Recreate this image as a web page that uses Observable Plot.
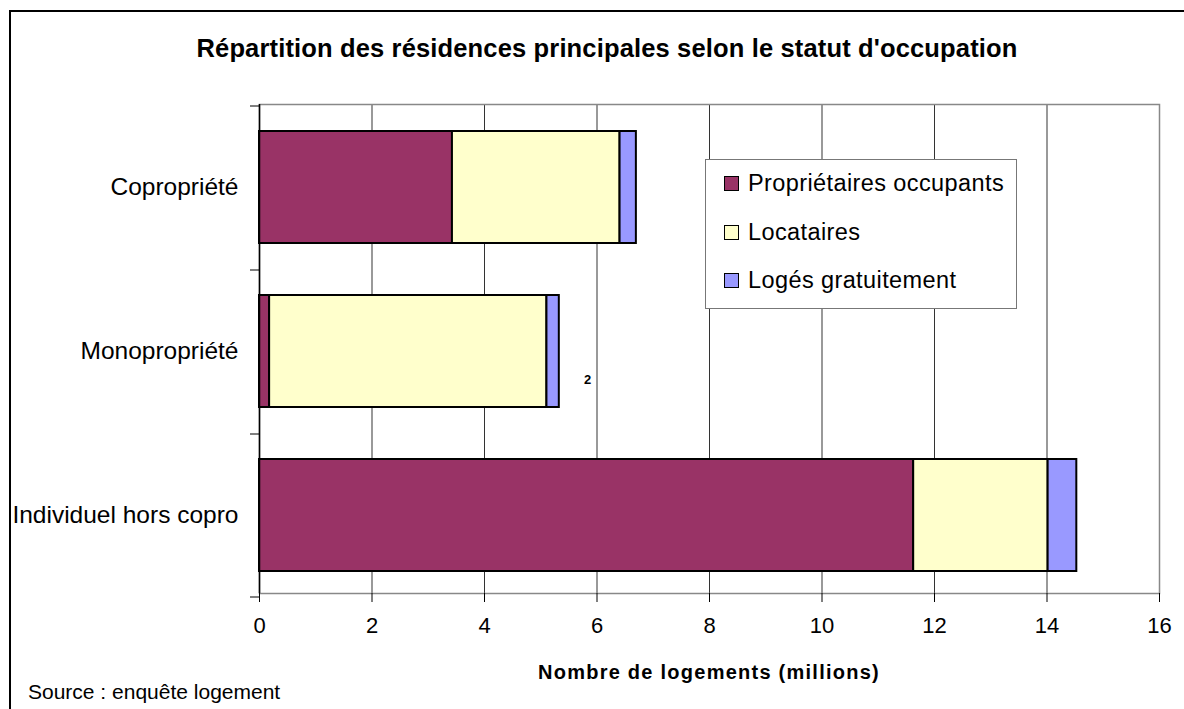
<!DOCTYPE html>
<html>
<head>
<meta charset="utf-8">
<script src="https://cdn.jsdelivr.net/npm/d3@7"></script>
<script src="https://cdn.jsdelivr.net/npm/@observablehq/plot@0.6"></script>
<style>
  html, body { margin: 0; padding: 0; background: #fff; overflow: hidden; }
  body { width: 1184px; height: 709px; position: relative; font-family: "Liberation Sans", Arial, sans-serif; }
  #border { position: absolute; left: 9px; top: 10px; width: 1300px; height: 800px; border: 2px solid #000; box-sizing: border-box; }
  #chart { position: absolute; left: 0; top: 0; }
  #title { position: absolute; left: 0; width: 1214px; top: 33px; line-height: 30px; text-align: center; font-weight: bold; font-size: 25.5px; letter-spacing: 0.15px; color: #000; }
  #xlabel { position: absolute; left: 259px; width: 900px; top: 660px; line-height: 24px; text-align: center; font-weight: bold; font-size: 20px; letter-spacing: 1.25px; }
  #source { position: absolute; left: 28px; top: 680px; line-height: 24px; font-size: 21px; }
  #note { position: absolute; left: 584px; top: 372px; line-height: 16px; font-size: 13px; font-weight: bold; }
  #legend { position: absolute; left: 705px; top: 159px; width: 312px; height: 150px; border: 1px solid #777; box-sizing: border-box; background: #fff; }
  .item { position: absolute; left: 18px; font-size: 23.5px; line-height: 28px; height: 28px; display: flex; align-items: center; letter-spacing: 0.4px; white-space: nowrap; }
  .sw { width: 13px; height: 13px; border: 1px solid #000; margin-right: 9px; flex: none; }
</style>
</head>
<body>
<div id="border"></div>
<div id="title">Répartition des résidences principales selon le statut d'occupation</div>
<div id="chart"></div>
<div id="legend"></div>
<div id="note">2</div>
<div id="xlabel">Nombre de logements (millions)</div>
<div id="source">Source : enquête logement</div>
<script>
const categories = ["Copropriété", "Monopropriété", "Individuel hors copro"];
const series = ["Propriétaires occupants", "Locataires", "Logés gratuitement"];
const colors = ["#993366", "#FFFFCC", "#9999FF"];
const proprietaires = [3.43, 0.18, 11.63];
const locataires = [2.98, 4.93, 2.39];
const gratuits = [0.29, 0.22, 0.51];
const xTicks = [0, 2, 4, 6, 8, 10, 12, 14, 16];

const values = [proprietaires, locataires, gratuits];
const data = [];
categories.forEach((c, i) => {
  series.forEach((s, j) => data.push({cat: c, series: s, value: values[j][i]}));
});

const W = 1184, H = 709, mT = 104, mB = 116;
const step = (H - mT - mB) / categories.length;

const plot = Plot.plot({
  width: W,
  height: H,
  marginLeft: 259,
  marginRight: 25,
  marginTop: mT,
  marginBottom: mB,
  style: {fontFamily: "'Liberation Sans', Arial, sans-serif", color: "#000", background: "transparent"},
  x: {domain: [0, 16], ticks: xTicks},
  y: {domain: categories, paddingInner: 0.32, paddingOuter: 0.15, align: 0.55},
  color: {domain: series, range: colors},
  marks: [
    Plot.gridX(xTicks.slice(1, -1), {stroke: "#000", strokeOpacity: 0.8, strokeWidth: 1}),
    Plot.frame({stroke: "#888", strokeWidth: 1.5}),
    Plot.barX(data, {x: "value", y: "cat", fill: "series", stroke: "#000", strokeWidth: 2}),
    Plot.ruleX([0], {stroke: "#000", strokeWidth: 1.5}),
    Plot.ruleY(categories, {y: d => d, x1: -0.16, x2: 0, stroke: "#000", dy: -step / 2}),
    Plot.ruleY(categories.slice(-1), {y: d => d, x1: -0.16, x2: 0, stroke: "#000", dy: step / 2}),
    Plot.axisX({ticks: xTicks, tickSize: 9, tickPadding: 15, fontSize: 22, label: null, stroke: "#000"}),
    Plot.axisY({tickSize: 0, tickPadding: 21, fontSize: 24.5, label: null})
  ]
});
document.getElementById("chart").appendChild(plot);

const legend = document.getElementById("legend");
const tops = [9, 58, 106];
series.forEach((s, j) => {
  const it = document.createElement("div");
  it.className = "item";
  it.style.top = tops[j] + "px";
  const sw = document.createElement("div");
  sw.className = "sw";
  sw.style.background = colors[j];
  const t = document.createElement("span");
  t.textContent = s;
  it.appendChild(sw);
  it.appendChild(t);
  legend.appendChild(it);
});
</script>
</body>
</html>
